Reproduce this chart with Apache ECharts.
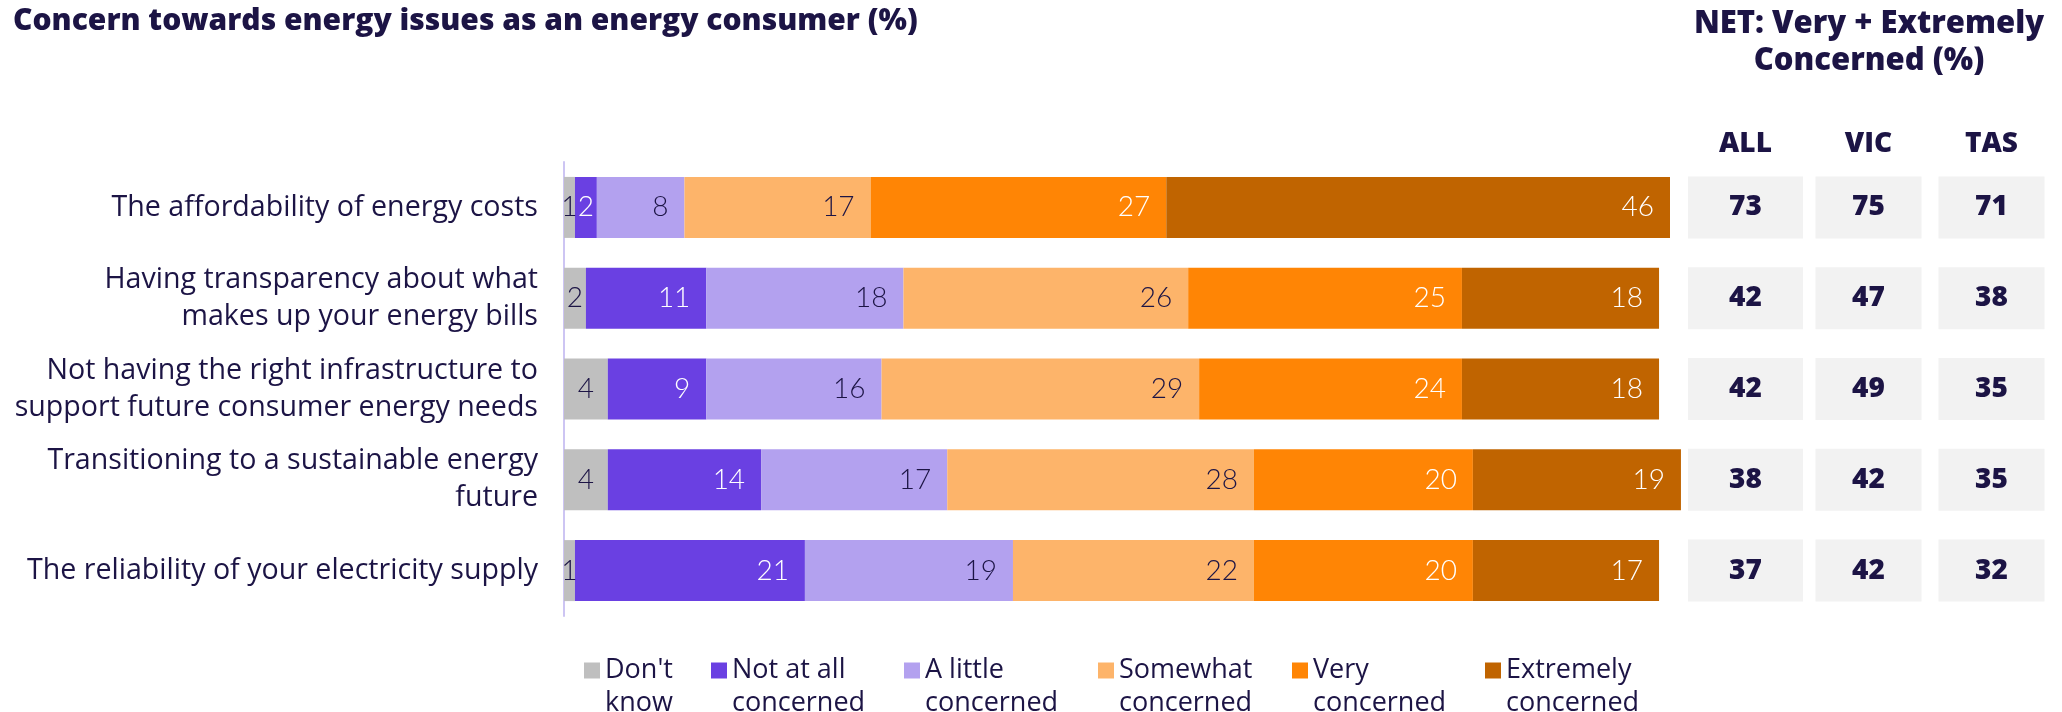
<!DOCTYPE html>
<html>
<head>
<meta charset="utf-8">
<script src="https://cdn.jsdelivr.net/npm/echarts@6/dist/echarts.min.js"></script>
<style>
  html, body { margin: 0; padding: 0; background: #ffffff; }
  #chart { width: 2062px; height: 712px; }
</style>
</head>
<body>
<div id="chart"></div>
<script>
// Survey items (top to bottom)
const categories = [
  'The affordability of energy costs',
  'Having transparency about what\nmakes up your energy bills',
  'Not having the right infrastructure to\nsupport future consumer energy needs',
  'Transitioning to a sustainable energy\nfuture',
  'The reliability of your electricity supply'
];

// Response shares (%)
const dontKnow  = [1, 2, 4, 4, 1];
const notAtAll  = [2, 11, 9, 14, 21];
const aLittle   = [8, 18, 16, 17, 19];
const somewhat  = [17, 26, 29, 28, 22];
const very      = [27, 25, 24, 20, 20];
const extremely = [46, 18, 18, 19, 17];

const seriesNames = [
  "Don't know", 'Not at all concerned', 'A little concerned',
  'Somewhat concerned', 'Very concerned', 'Extremely concerned'
];
// Two-line legend text; the leading blank line lifts the swatch to the first line
const legendLines = [
  "\nDon't\nknow", '\nNot at all\nconcerned', '\nA little\nconcerned',
  '\nSomewhat\nconcerned', '\nVery\nconcerned', '\nExtremely\nconcerned'
];

// NET: Very + Extremely concerned (%)
const netColumns = ['ALL', 'VIC', 'TAS'];
const netAll = [73, 42, 42, 38, 37];
const netVic = [75, 47, 49, 42, 42];
const netTas = [71, 38, 35, 35, 32];

const NAVY = '#1c1445';
const TEXT_FONT = '"Open Sans", Lato, sans-serif';
const NUM_FONT = 'Lato, "Open Sans", sans-serif';
const colors = ['#bfbfbf', '#6a40e2', '#b3a1ef', '#fdb46a', '#ff8505', '#c06400'];
const labelColors = [NAVY, '#ffffff', NAVY, NAVY, '#ffffff', '#ffffff'];
const values = [dontKnow, notAtAll, aLittle, somewhat, very, extremely];

const barSeries = values.map((arr, k) => ({
  name: seriesNames[k],
  type: 'bar',
  stack: 'total',
  xAxisIndex: 0,
  yAxisIndex: 0,
  barWidth: 61,
  clip: false,
  silent: true,
  itemStyle: { color: colors[k] },
  data: arr.map(v => ({
    value: v,
    label: v <= 4
      ? { position: 'inside' }
      : { position: 'insideRight', distance: 16 }
  })),
  label: {
    show: true,
    color: labelColors[k],
    fontFamily: NUM_FONT,
    fontWeight: 300,
    fontSize: 28
  }
}));

// Table cells: [column, row, value]
const netCells = [];
[netAll, netVic, netTas].forEach((col, j) => {
  col.forEach((v, i) => netCells.push([j, i, v]));
});

// Legend: one component per entry so each column sits at its own offset
const legendLeft = [584, 711, 904, 1098, 1292, 1485];
const legends = seriesNames.map((name, k) => ({
  data: [name],
  left: legendLeft[k],
  top: 621,
  padding: 0,
  orient: 'horizontal',
  itemWidth: 16,
  itemHeight: 16,
  icon: 'rect',
  selectedMode: false,
  formatter: () => legendLines[k],
  textStyle: {
    color: NAVY,
    fontFamily: TEXT_FONT,
    fontSize: 27,
    lineHeight: 33
  }
}));

const chart = echarts.init(document.getElementById('chart'), null, { renderer: 'canvas' });

chart.setOption({
  backgroundColor: '#ffffff',
  animation: false,
  legend: legends,
  grid: [
    { left: 564, right: 392, top: 162, height: 454 },
    { left: 1684, width: 369, top: 162, height: 454 }
  ],
  xAxis: [
    {
      type: 'value', gridIndex: 0, min: 0, max: 101,
      show: false
    },
    {
      type: 'category', gridIndex: 1, data: netColumns, position: 'top',
      axisLine: { show: false }, axisTick: { show: false },
      axisLabel: {
        color: NAVY, fontFamily: TEXT_FONT, fontWeight: 800, fontSize: 28, margin: 4
      }
    }
  ],
  yAxis: [
    {
      type: 'category', gridIndex: 0, data: categories, inverse: true,
      axisLine: { show: true, lineStyle: { color: '#cdc5f3', width: 2 } },
      axisTick: { show: false },
      axisLabel: {
        color: NAVY, fontFamily: TEXT_FONT, fontSize: 28.6, lineHeight: 37,
        margin: 26, align: 'right'
      }
    },
    {
      type: 'category', gridIndex: 1, data: categories, inverse: true,
      show: false
    }
  ],
  series: barSeries.concat([{
    type: 'scatter',
    xAxisIndex: 1,
    yAxisIndex: 1,
    silent: true,
    symbol: 'rect',
    symbolSize: (val) => [val[0] === 0 ? 115 : 106, 62],
    itemStyle: { color: '#f2f2f2', opacity: 1 },
    label: {
      show: true,
      position: 'inside',
      formatter: p => p.value[2],
      color: NAVY,
      fontFamily: TEXT_FONT,
      fontWeight: 800,
      fontSize: 28
    },
    data: netCells
  }]),
  graphic: [
    {
      type: 'text', left: 13, top: 6,
      style: {
        text: 'Concern towards energy issues as an energy consumer (%)',
        fill: NAVY, font: '800 30px ' + TEXT_FONT
      }
    },
    {
      type: 'text', x: 1869, y: 43,
      style: {
        text: 'NET: Very + Extremely\nConcerned (%)',
        fill: NAVY, font: '800 31px ' + TEXT_FONT,
        align: 'center', verticalAlign: 'middle', lineHeight: 37
      }
    }
  ]
});
</script>
</body>
</html>
